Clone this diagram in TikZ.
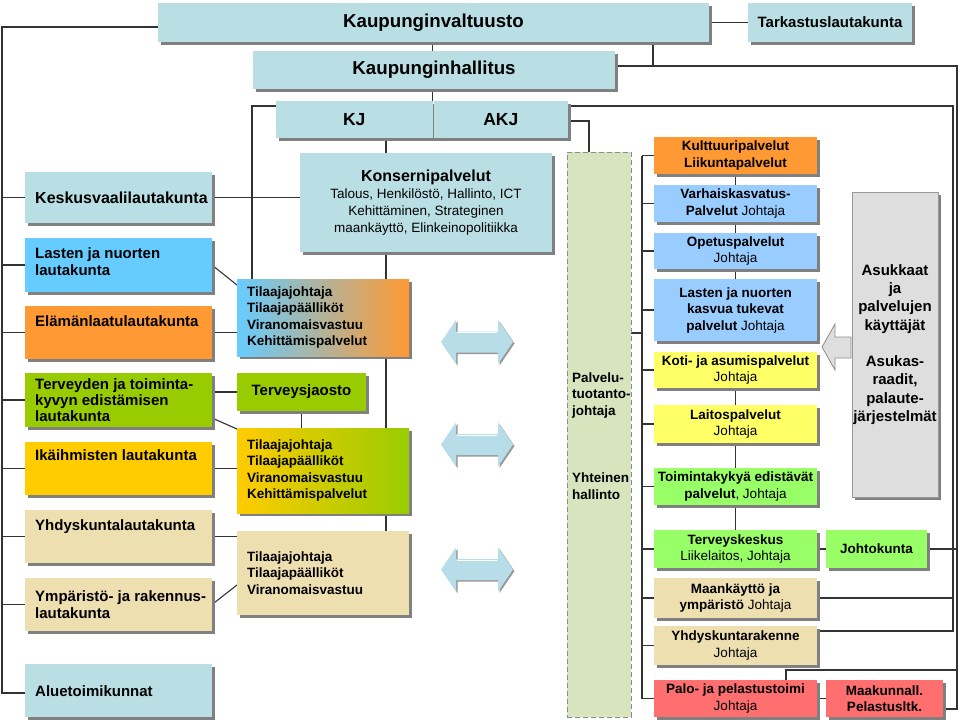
\documentclass[tikz,border=0pt]{standalone}
\usepackage{fontspec}
\setmainfont{Liberation Sans}
\usetikzlibrary{shadows,calc}
\pgfdeclarelayer{back}
\pgfdeclarelayer{bg}
\pgfsetlayers{back,bg,main}
\definecolor{lb}{HTML}{B9DFE4}
\definecolor{skyb}{HTML}{66CCFF}
\definecolor{orng}{HTML}{FF9933}
\definecolor{grn}{HTML}{99CC00}
\definecolor{gold}{HTML}{FFCC00}
\definecolor{beige}{HTML}{EEDFB0}
\definecolor{rblue}{HTML}{99CCFF}
\definecolor{yel}{HTML}{FFFF66}
\definecolor{lgrn}{HTML}{99FF66}
\definecolor{pnk}{HTML}{FF6F6F}
\definecolor{palvg}{HTML}{D7E4BD}
\definecolor{arrb}{HTML}{B7DDE8}
\definecolor{asg}{HTML}{DEDEDE}
\newcommand\szS{\fontsize{13.5}{16.5}\selectfont}
\newcommand\szM{\fontsize{15}{16.5}\selectfont}
\newcommand\szL{\fontsize{18.7}{22}\selectfont}
\newcommand\szK{\fontsize{17.5}{20}\selectfont}
\newcommand\szT{\fontsize{15}{18}\selectfont}
\newcommand\mybox[7]{\node[#2,minimum width={(#5)-(#3)},minimum height={(#6)-(#4)}] (#1) at ({((#3)+(#5))/2},{((#4)+(#6))/2}) {#7};}
\newcommand\dblarrow[1]{%
  \begin{scope}[shift={(0,#1)}]
  \fill[black!40,shift={(1.5,1.5)}] (441,0) -- (456,-22) -- (456,-10.5) -- (498,-10.5) -- (498,-22) -- (513,0) -- (498,22) -- (498,10.5) -- (456,10.5) -- (456,22) -- cycle;
  \fill[arrb] (441,0) -- (456,-22) -- (456,-10.5) -- (498,-10.5) -- (498,-22) -- (513,0) -- (498,22) -- (498,10.5) -- (456,10.5) -- (456,22) -- cycle;
  \draw[white,line width=0.8pt] (457,-9.5) -- (497,-9.5);
  \end{scope}}
\begin{document}
\begin{tikzpicture}[x=1pt,y=-1pt,
  bx/.style={inner sep=0pt,outer sep=0pt,drop shadow={shadow xshift=3pt,shadow yshift=-3pt,fill=black!50,opacity=1}},
  plain/.style={inner sep=0pt,outer sep=0pt},
  rb/.style={bx,align=center,font=\bfseries\szS},
  tl/.style={bx,align=left,text width=152pt,inner xsep=10pt,font=\bfseries\szS},
  ltxt/.style={inner sep=0pt,align=left,anchor=west,font=\bfseries\szM},
  conn/.style={draw=black!80,line width=1.1pt},
]
\useasboundingbox (0,0) rectangle (960,724);
\begin{pgfonlayer}{back}
\fill[white] (0,0) rectangle (960,724);
\end{pgfonlayer}

% ---- top
\mybox{valt}{bx,fill=lb,font=\bfseries\szL}{158}{3}{709}{42}{Kaupunginvaltuusto}
\mybox{tark}{bx,fill=lb,font=\bfseries\szT}{748}{3}{912}{42}{Tarkastuslautakunta}
\mybox{hall}{bx,fill=lb,font=\bfseries\szL}{253}{51}{615}{89}{Kaupunginhallitus}
\fill[black!50] (279,104) rectangle (571,141);
\mybox{kj}{plain,fill=lb,font=\bfseries\szK}{276}{101}{432.5}{138}{KJ}
\mybox{akj}{plain,fill=lb,font=\bfseries\szK}{433.5}{101}{568}{138}{AKJ}
\mybox{kons}{bx,fill=lb,align=center,font=\fontsize{13.5}{17}\selectfont}{300}{153}{552}{252}{{\bfseries\fontsize{16}{17}\selectfont Konsernipalvelut}\\Talous, Henkilöstö, Hallinto, ICT\\Kehittäminen, Strateginen\\maankäyttö, Elinkeinopolitiikka}

% ---- left column
\mybox{keskus}{bx,fill=lb}{25}{172}{212}{223}{}
\mybox{lasten}{bx,fill=skyb}{25}{238}{212}{292}{}
\mybox{elama}{bx,fill=orng}{25}{306}{212}{359}{}
\mybox{terv}{bx,fill=grn}{25}{373}{212}{427}{}
\mybox{ika}{bx,fill=gold}{25}{442}{212}{495}{}
\mybox{yhdl}{bx,fill=beige}{25}{510}{212}{563}{}
\mybox{ymp}{bx,fill=beige}{25}{578}{212}{631}{}
\mybox{alue}{bx,fill=lb}{25}{664}{212}{717}{}
\node[ltxt,font=\bfseries\fontsize{16}{18}\selectfont] (keskusT) at (35,198) {Keskusvaalilautakunta};
\node[ltxt,font=\bfseries\fontsize{15}{17}\selectfont] (lastenT) at (35,262) {Lasten ja nuorten\\lautakunta};
\node[ltxt] (elamaT) at (35,321) {Elämänlaatulautakunta};
\node[ltxt,font=\bfseries\fontsize{15}{16}\selectfont] (tervT) at (35,400) {Terveyden ja toiminta-\\kyvyn edistämisen\\lautakunta};
\node[ltxt] (ikaT) at (35,455) {Ikäihmisten lautakunta};
\node[ltxt] (yhdlT) at (35,527) {Yhdyskuntalautakunta};
\node[ltxt,font=\bfseries\fontsize{15}{17}\selectfont] (ympT) at (35,605) {Ympäristö- ja rakennus-\\lautakunta};
\node[ltxt] (alueT) at (35,691) {Aluetoimikunnat};

% ---- middle column
\mybox{tA}{tl,left color=skyb,right color=orng}{237}{279}{409}{356}{Tilaajajohtaja\\Tilaajapäälliköt\\Viranomaisvastuu\\Kehittämispalvelut}
\mybox{tj}{bx,fill=grn,font=\bfseries\szM}{237}{373}{366}{411}{Terveysjaosto}
\mybox{tB}{tl,left color=gold,right color=grn}{237}{428}{409}{513}{Tilaajajohtaja\\Tilaajapäälliköt\\Viranomaisvastuu\\Kehittämispalvelut}
\mybox{tC}{tl,fill=beige}{237}{531}{409}{615}{Tilaajajohtaja\\Tilaajapäälliköt\\Viranomaisvastuu}

\dblarrow{342}
\dblarrow{444.5}
\dblarrow{569.5}

% ---- palvelutuotanto
\mybox{palv}{plain,fill=palvg,draw=black!45,line width=1pt,dash pattern=on 5pt off 3pt}{567}{152}{631}{717}{}
\node[ltxt,font=\bfseries\szS] (palvT1) at (572,395) {Palvelu-\\tuotanto-\\johtaja};
\node[ltxt,font=\bfseries\szS] (palvT2) at (572,486) {Yhteinen\\hallinto};

% ---- right column
\mybox{kult}{rb,fill=orng}{654}{137}{817}{174}{Kulttuuripalvelut\\Liikuntapalvelut}
\mybox{varh}{rb,fill=rblue}{654}{185}{817}{222}{Varhaiskasvatus-\\Palvelut {\mdseries Johtaja}}
\mybox{opet}{rb,fill=rblue}{654}{233}{817}{269}{Opetuspalvelut\\{\mdseries Johtaja}}
\mybox{last}{rb,fill=rblue}{654}{279}{817}{341}{Lasten ja nuorten\\kasvua tukevat\\palvelut {\mdseries Johtaja}}
\mybox{koti}{rb,fill=yel}{654}{352}{817}{388}{Koti- ja asumispalvelut\\{\mdseries Johtaja}}
\mybox{lait}{rb,fill=yel}{654}{405}{817}{443}{Laitospalvelut\\{\mdseries Johtaja}}
\mybox{toim}{rb,fill=lgrn}{654}{468}{817}{505}{Toimintakykyä edistävät\\palvelut{\mdseries, Johtaja}}
\mybox{tk}{rb,fill=lgrn}{654}{530}{817}{568}{Terveyskeskus\\{\mdseries Liikelaitos, Johtaja}}
\mybox{maan}{rb,fill=beige}{654}{578}{817}{618}{Maankäyttö ja\\ympäristö {\mdseries Johtaja}}
\mybox{yhdr}{rb,fill=beige}{654}{626}{817}{665}{Yhdyskuntarakenne\\{\mdseries Johtaja}}
\mybox{palo}{rb,fill=pnk}{654}{680}{817}{717}{Palo- ja pelastustoimi\\{\mdseries Johtaja}}
\mybox{joht}{rb,fill=lgrn}{826}{530}{927}{568}{Johtokunta}
\mybox{maak}{rb,fill=pnk}{826}{680}{943}{717}{Maakunnall.\\Pelastusltk.}
\mybox{asuk}{rb,fill=asg,draw=black!40,font=\bfseries\fontsize{15}{18.3}\selectfont}{852}{192}{938}{497}{Asukkaat\\ja\\palvelujen\\käyttäjät\\[18.3pt]Asukas-\\raadit,\\palaute-\\järjestelmät}

% asukkaat arrow
\filldraw[fill=asg,draw=black!45,line width=0.8pt] (822,347) -- (835,324) -- (835,337) -- (851,337) -- (851,358) -- (835,358) -- (835,370) -- cycle;

% ---- connectors
\begin{pgfonlayer}{bg}
\coordinate (spL) at (2,693);
\draw[conn] ([yshift=-4.5pt]valt.west) -| (spL) -- (spL -| alue.west);
\foreach \n in {keskus,lasten,elama,terv,ika,yhdl,ymp} \draw[conn] (\n.west) -- (\n.west -| spL);
\draw[conn] (valt.east) -- (tark.west);
\draw[conn] (valt.south -| kj.east) -- (hall.north -| kj.east);
\draw[conn] (hall.south -| kj.east) -- (kj.north east);
\coordinate (oT) at (957,66);
\coordinate (oB) at (957,709);
\coordinate (vx) at (653,66);
\draw[conn] (valt.south -| vx) -- (vx);
\draw[conn] (hall.east |- oT) -- (oT) -- (oB) -- (oB -| maak.east);
\draw[conn] (joht.east) -- (joht.east -| oT);
\coordinate (pc) at (786,670);
\draw[conn] (pc -| oT) -- (pc) -- (pc |- palo.north);
\coordinate (iT) at (953,106);
\coordinate (iB) at (953,631);
\draw[conn] (akj.east |- iT) -- (iT) -- (iB) -- (iB -| yhdr.east);
\draw[conn] (maan.east) -- (maan.east -| iT);
\coordinate (px) at (589,121);
\draw[conn] (akj.east |- px) -- (px) -- (px |- palv.north);
\coordinate (mx) at (252,106);
\draw[conn] (kj.west |- mx) -- (mx) -- (mx |- tA.north);
\draw[conn] (keskus.east) -- (keskus.east -| kons.west);
\coordinate (cx) at (386,0);
\draw[conn] (kj.south -| cx) -- (kons.north -| cx);
\draw[conn] (kons.south -| cx) -- (tA.north -| cx);
\draw[conn] (tA.south -| cx) -- (tB.north -| cx);
\draw[conn] (tB.south -| cx) -- (tC.north -| cx);
\draw[conn] (lasten.east) -- ([yshift=-6pt]tA.north west);
\draw[conn] (elama.east) -- (elama.east -| tA.west);
\draw[conn] (tj.west -| terv.east) -- (tj.west);
\draw[conn] ([yshift=-18pt]terv.east) -- ([yshift=-1pt]tB.north west);
\draw[conn] (ika.east) -- (ika.east -| tB.west);
\draw[conn] (tj.south) -- (tj.south |- tB.north);
\draw[conn] (yhdl.east) -- (yhdl.east -| tC.west);
\draw[conn] (ymp.east) -- ([yshift=-54pt]tC.north west);
\coordinate (rs) at (642,333);
\draw[conn] (palv.east |- rs) -- (rs);
\draw[conn] (rs |- kult.west) -- (rs |- palo.west);
\foreach \n in {kult,varh,opet,last,koti,lait,toim,tk,maan,yhdr,palo} \draw[conn] (\n.west) -- (\n.west -| rs);
\draw[conn] (kult.south) -- (varh.north);
\draw[conn] (varh.south) -- (opet.north);
\draw[conn] (opet.south) -- (last.north);
\draw[conn] (koti.south) -- (lait.north);
\draw[conn] (lait.south) -- (toim.north);
\draw[conn] (toim.south) -- (tk.north);
\draw[conn] (tk.east) -- (joht.west);
\draw[conn] (palo.east) -- (maak.west);
\end{pgfonlayer}
\end{tikzpicture}
\end{document}
